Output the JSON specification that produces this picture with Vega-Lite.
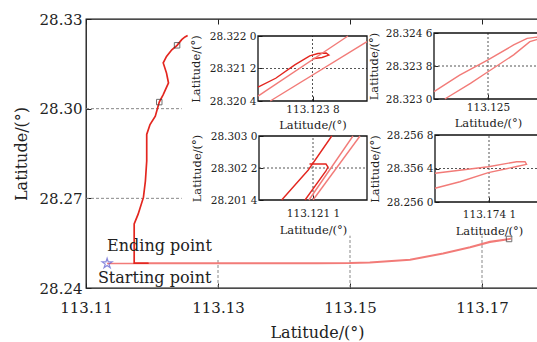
{
  "$schema": "https://vega.github.io/schema/vega-lite/v6.json",
  "width": 462,
  "height": 269,
  "autosize": "none",
  "padding": {"left": 86, "top": 19, "right": -11, "bottom": 54},
  "background": "white",
  "config": {
    "view": {"stroke": "#111", "strokeWidth": 1.3},
    "axis": {
      "labelFont": "DejaVu Serif",
      "titleFont": "DejaVu Serif",
      "titleFontWeight": "normal",
      "labelColor": "#222",
      "titleColor": "#222",
      "tickColor": "#222",
      "domainColor": "#111",
      "grid": false,
      "labelFlush": false,
      "labelOverlap": false
    }
  },
  "datasets": {
    "path": [
      {"i": 0, "x": 113.1132, "y": 28.2482, "s": "light"},
      {"i": 1, "x": 113.13, "y": 28.2482, "s": "light"},
      {"i": 2, "x": 113.145, "y": 28.2482, "s": "light"},
      {"i": 3, "x": 113.15, "y": 28.2483, "s": "light"},
      {"i": 4, "x": 113.153, "y": 28.2485, "s": "light"},
      {"i": 5, "x": 113.1591, "y": 28.2494, "s": "light"},
      {"i": 6, "x": 113.1641, "y": 28.2515, "s": "light"},
      {"i": 7, "x": 113.1682, "y": 28.2536, "s": "light"},
      {"i": 8, "x": 113.1712, "y": 28.2553, "s": "light"},
      {"i": 9, "x": 113.1737, "y": 28.2562, "s": "light"},
      {"i": 10, "x": 113.1744, "y": 28.2565, "s": "light"},
      {"i": 11, "x": 113.1737, "y": 28.2563, "s": "light"},
      {"i": 12, "x": 113.1712, "y": 28.2555, "s": "light"},
      {"i": 13, "x": 113.1682, "y": 28.2537, "s": "light"},
      {"i": 14, "x": 113.1641, "y": 28.2516, "s": "light"},
      {"i": 15, "x": 113.1591, "y": 28.2495, "s": "light"},
      {"i": 16, "x": 113.153, "y": 28.2486, "s": "light"},
      {"i": 17, "x": 113.15, "y": 28.2484, "s": "light"},
      {"i": 18, "x": 113.14, "y": 28.2483, "s": "light"},
      {"i": 19, "x": 113.13, "y": 28.2483, "s": "light"},
      {"i": 20, "x": 113.1195, "y": 28.2483, "s": "light"},
      {"i": 21, "x": 113.1195, "y": 28.2483, "s": "dark"},
      {"i": 22, "x": 113.1173, "y": 28.2483, "s": "dark"},
      {"i": 23, "x": 113.1173, "y": 28.2495, "s": "dark"},
      {"i": 24, "x": 113.1173, "y": 28.2614, "s": "dark"},
      {"i": 25, "x": 113.1179, "y": 28.2647, "s": "dark"},
      {"i": 26, "x": 113.1187, "y": 28.2703, "s": "dark"},
      {"i": 27, "x": 113.119, "y": 28.2758, "s": "dark"},
      {"i": 28, "x": 113.1192, "y": 28.2825, "s": "dark"},
      {"i": 29, "x": 113.1192, "y": 28.2914, "s": "dark"},
      {"i": 30, "x": 113.1197, "y": 28.2947, "s": "dark"},
      {"i": 31, "x": 113.1205, "y": 28.2975, "s": "dark"},
      {"i": 32, "x": 113.1211, "y": 28.3022, "s": "dark"},
      {"i": 33, "x": 113.1217, "y": 28.3047, "s": "dark"},
      {"i": 34, "x": 113.1225, "y": 28.3086, "s": "dark"},
      {"i": 35, "x": 113.1222, "y": 28.3119, "s": "dark"},
      {"i": 36, "x": 113.1217, "y": 28.3153, "s": "dark"},
      {"i": 37, "x": 113.1222, "y": 28.3175, "s": "dark"},
      {"i": 38, "x": 113.123, "y": 28.3197, "s": "dark"},
      {"i": 39, "x": 113.1238, "y": 28.3212, "s": "dark"},
      {"i": 40, "x": 113.1245, "y": 28.3231, "s": "dark"},
      {"i": 41, "x": 113.125, "y": 28.324, "s": "dark"},
      {"i": 42, "x": 113.1254, "y": 28.3245, "s": "dark"}
    ],
    "marks": [
      {"x": 113.1238, "y": 28.3212},
      {"x": 113.1211, "y": 28.3022},
      {"x": 113.1741, "y": 28.2564}
    ],
    "start": [{"x": 113.1132, "y": 28.2482}],
    "notes": [
      {"x": 113.1132, "y": 28.2542, "label": "Ending point"},
      {"x": 113.1118, "y": 28.2432, "label": "Starting point"}
    ],
    "hgrid": [
      {"y": 28.27, "x": 113.11, "x2": 113.1245},
      {"y": 28.3, "x": 113.11, "x2": 113.1245}
    ],
    "vgrid": [
      {"x": 113.13, "y": 28.24, "y2": 28.2498},
      {"x": 113.15, "y": 28.24, "y2": 28.2575},
      {"x": 113.17, "y": 28.24, "y2": 28.2575}
    ],
    "insets": [
      {"id": 1, "x0": 113.1234, "x1": 113.1242, "y0": 28.3204, "y1": 28.322, "xc": 113.1238, "yc": 28.3212},
      {"id": 2, "x0": 113.1246, "x1": 113.1254, "y0": 28.323, "y1": 28.3246, "xc": 113.125, "yc": 28.3238},
      {"id": 3, "x0": 113.1207, "x1": 113.1215, "y0": 28.3014, "y1": 28.303, "xc": 113.1211, "yc": 28.3022},
      {"id": 4, "x0": 113.1737, "x1": 113.1745, "y0": 28.256, "y1": 28.2568, "xc": 113.1741, "yc": 28.2564}
    ],
    "tracks": [
      {"id": 1, "g": "1a", "s": "dark", "i": 0, "x": 113.1234, "y": 28.32074},
      {"id": 1, "g": "1a", "s": "dark", "i": 1, "x": 113.12353, "y": 28.32096},
      {"id": 1, "g": "1a", "s": "dark", "i": 2, "x": 113.12367, "y": 28.32129},
      {"id": 1, "g": "1a", "s": "dark", "i": 3, "x": 113.12378, "y": 28.32151},
      {"id": 1, "g": "1a", "s": "dark", "i": 4, "x": 113.12384, "y": 28.32157},
      {"id": 1, "g": "1a", "s": "dark", "i": 5, "x": 113.1239, "y": 28.32158},
      {"id": 1, "g": "1a", "s": "dark", "i": 6, "x": 113.12392, "y": 28.32153},
      {"id": 1, "g": "1a", "s": "dark", "i": 7, "x": 113.12387, "y": 28.32147},
      {"id": 1, "g": "1a", "s": "dark", "i": 8, "x": 113.1238, "y": 28.32144},
      {"id": 1, "g": "1b", "s": "light", "i": 0, "x": 113.1234, "y": 28.32052},
      {"id": 1, "g": "1b", "s": "light", "i": 1, "x": 113.12406, "y": 28.322},
      {"id": 1, "g": "1c", "s": "light", "i": 0, "x": 113.12349, "y": 28.3204},
      {"id": 1, "g": "1c", "s": "light", "i": 1, "x": 113.1242, "y": 28.32186},
      {"id": 2, "g": "2a", "s": "light", "i": 0, "x": 113.1246, "y": 28.32318},
      {"id": 2, "g": "2a", "s": "light", "i": 1, "x": 113.12479, "y": 28.32358},
      {"id": 2, "g": "2a", "s": "light", "i": 2, "x": 113.125, "y": 28.32395},
      {"id": 2, "g": "2a", "s": "light", "i": 3, "x": 113.12519, "y": 28.32431},
      {"id": 2, "g": "2a", "s": "light", "i": 4, "x": 113.12529, "y": 28.32447},
      {"id": 2, "g": "2a", "s": "light", "i": 5, "x": 113.12536, "y": 28.3245},
      {"id": 2, "g": "2a", "s": "light", "i": 6, "x": 113.12538, "y": 28.32447},
      {"id": 2, "g": "2a", "s": "light", "i": 7, "x": 113.12536, "y": 28.32444},
      {"id": 2, "g": "2a", "s": "light", "i": 8, "x": 113.12531, "y": 28.32439},
      {"id": 2, "g": "2a", "s": "light", "i": 9, "x": 113.12519, "y": 28.32407},
      {"id": 2, "g": "2a", "s": "light", "i": 10, "x": 113.125, "y": 28.32366},
      {"id": 2, "g": "2a", "s": "light", "i": 11, "x": 113.12487, "y": 28.32338},
      {"id": 2, "g": "2a", "s": "light", "i": 12, "x": 113.12468, "y": 28.323},
      {"id": 3, "g": "3a", "s": "dark", "i": 0, "x": 113.120868, "y": 28.3014},
      {"id": 3, "g": "3a", "s": "dark", "i": 1, "x": 113.121065, "y": 28.30215},
      {"id": 3, "g": "3a", "s": "dark", "i": 2, "x": 113.121239, "y": 28.303},
      {"id": 3, "g": "3h", "s": "dark", "i": 0, "x": 113.121074, "y": 28.3023},
      {"id": 3, "g": "3h", "s": "dark", "i": 1, "x": 113.121196, "y": 28.3023},
      {"id": 3, "g": "3h", "s": "dark", "i": 2, "x": 113.121211, "y": 28.302225},
      {"id": 3, "g": "3h", "s": "dark", "i": 3, "x": 113.121196, "y": 28.302125},
      {"id": 3, "g": "3h", "s": "dark", "i": 4, "x": 113.121041, "y": 28.3014},
      {"id": 3, "g": "3b", "s": "light", "i": 0, "x": 113.12107, "y": 28.3014},
      {"id": 3, "g": "3b", "s": "light", "i": 1, "x": 113.121396, "y": 28.303},
      {"id": 3, "g": "3c", "s": "light", "i": 0, "x": 113.1211, "y": 28.3014},
      {"id": 3, "g": "3c", "s": "light", "i": 1, "x": 113.121448, "y": 28.303},
      {"id": 4, "g": "4a", "s": "light", "i": 0, "x": 113.1737, "y": 28.256343},
      {"id": 4, "g": "4a", "s": "light", "i": 1, "x": 113.174095, "y": 28.256421},
      {"id": 4, "g": "4a", "s": "light", "i": 2, "x": 113.174305, "y": 28.256481},
      {"id": 4, "g": "4a", "s": "light", "i": 3, "x": 113.174367, "y": 28.256481},
      {"id": 4, "g": "4a", "s": "light", "i": 4, "x": 113.174378, "y": 28.25645},
      {"id": 4, "g": "4a", "s": "light", "i": 5, "x": 113.174305, "y": 28.256424},
      {"id": 4, "g": "4a", "s": "light", "i": 6, "x": 113.174095, "y": 28.25635},
      {"id": 4, "g": "4a", "s": "light", "i": 7, "x": 113.173885, "y": 28.256242},
      {"id": 4, "g": "4a", "s": "light", "i": 8, "x": 113.1737, "y": 28.256164}
    ]
  },
  "layer": [
    {
      "data": {"name": "hgrid"},
      "mark": {"type": "rule", "strokeDash": [3, 2], "color": "#888", "strokeWidth": 1},
      "encoding": {
        "y": {"field": "y", "type": "quantitative", "scale": {"domain": [28.24, 28.33], "nice": false, "zero": false}, "axis": null},
        "x": {"field": "x", "type": "quantitative", "scale": {"domain": [113.11, 113.18], "nice": false, "zero": false}, "axis": null},
        "x2": {"field": "x2"}
      }
    },
    {
      "data": {"name": "vgrid"},
      "mark": {"type": "rule", "strokeDash": [3, 2], "color": "#888", "strokeWidth": 1},
      "encoding": {
        "x": {"field": "x", "type": "quantitative", "scale": {"domain": [113.11, 113.18], "nice": false, "zero": false},
          "axis": {"orient": "top", "values": [113.11, 113.13, 113.15, 113.17], "labels": false, "tickSize": -5, "domain": false, "title": null}},
        "y": {"field": "y", "type": "quantitative", "scale": {"domain": [28.24, 28.33], "nice": false, "zero": false}, "axis": null},
        "y2": {"field": "y2"}
      }
    },
    {
      "data": {"name": "path"},
      "mark": {"type": "line", "strokeWidth": 1.7},
      "encoding": {
        "x": {"field": "x", "type": "quantitative", "scale": {"domain": [113.11, 113.18], "nice": false, "zero": false},
          "axis": {"orient": "bottom", "values": [113.11, 113.13, 113.15, 113.17], "format": ".2f", "labelFontSize": 15, "tickSize": -5, "labelPadding": 17, "domain": false, "title": "Latitude/(°)", "titleFontSize": 16, "titlePadding": 9}},
        "y": {"field": "y", "type": "quantitative", "scale": {"domain": [28.24, 28.33], "nice": false, "zero": false},
          "axis": {"orient": "left", "values": [28.24, 28.27, 28.3, 28.33], "format": ".2f", "labelFontSize": 15, "tickSize": -5, "labelPadding": 9, "domain": false, "title": "Latitude/(°)", "titleFontSize": 16, "titlePadding": 10}},
        "color": {"field": "s", "type": "nominal", "scale": {"domain": ["dark", "light"], "range": ["#e3261f", "#f27b78"]}, "legend": null},
        "order": {"field": "i", "type": "quantitative"}
      }
    },
    {
      "data": {"name": "marks"},
      "mark": {"type": "point", "shape": "square", "size": 30, "filled": false, "color": "#333", "strokeWidth": 1},
      "encoding": {
        "x": {"field": "x", "type": "quantitative", "scale": {"domain": [113.11, 113.18], "nice": false, "zero": false}, "axis": null},
        "y": {"field": "y", "type": "quantitative", "scale": {"domain": [28.24, 28.33], "nice": false, "zero": false}, "axis": null}
      }
    },
    {
      "data": {"name": "start"},
      "mark": {"type": "point", "shape": "M0,-1L0.2245,-0.309L0.951,-0.309L0.3633,0.118L0.5878,0.809L0,0.382L-0.5878,0.809L-0.3633,0.118L-0.951,-0.309L-0.2245,-0.309Z", "size": 110, "filled": false, "color": "#5a5ad0", "strokeWidth": 1.2},
      "encoding": {
        "x": {"field": "x", "type": "quantitative", "scale": {"domain": [113.11, 113.18], "nice": false, "zero": false}, "axis": null},
        "y": {"field": "y", "type": "quantitative", "scale": {"domain": [28.24, 28.33], "nice": false, "zero": false}, "axis": null}
      }
    },
    {
      "data": {"name": "notes"},
      "mark": {"type": "text", "font": "DejaVu Serif", "fontSize": 16, "align": "left", "baseline": "middle", "color": "#222"},
      "encoding": {
        "x": {"field": "x", "type": "quantitative", "scale": {"domain": [113.11, 113.18], "nice": false, "zero": false}, "axis": null},
        "y": {"field": "y", "type": "quantitative", "scale": {"domain": [28.24, 28.33], "nice": false, "zero": false}, "axis": null},
        "text": {"field": "label", "type": "nominal"}
      }
    },
    {
      "data": {"name": "insets"},
      "transform": [{"filter": "datum.id == 1"}],
      "mark": {"type": "rule", "strokeDash": [2, 2], "color": "#555", "strokeWidth": 1},
      "encoding": {
        "x": {"field": "xc", "type": "quantitative", "scale": {"domain": [113.1234, 113.1242], "range": [172, 281], "nice": false, "zero": false}, "axis": null},
        "y": {"field": "y0", "type": "quantitative", "scale": {"domain": [28.3204, 28.322], "range": [82, 17], "nice": false, "zero": false}, "axis": null},
        "y2": {"field": "y1"}
      }
    },
    {
      "data": {"name": "insets"},
      "transform": [{"filter": "datum.id == 1"}],
      "mark": {"type": "rule", "strokeDash": [2, 2], "color": "#555", "strokeWidth": 1},
      "encoding": {
        "y": {"field": "yc", "type": "quantitative", "scale": {"domain": [28.3204, 28.322], "range": [82, 17], "nice": false, "zero": false}, "axis": null},
        "x": {"field": "x0", "type": "quantitative", "scale": {"domain": [113.1234, 113.1242], "range": [172, 281], "nice": false, "zero": false}, "axis": null},
        "x2": {"field": "x1"}
      }
    },
    {
      "data": {"name": "insets"},
      "transform": [{"filter": "datum.id == 1"}],
      "mark": {"type": "rect", "filled": false, "color": "#111", "strokeWidth": 1.3},
      "encoding": {
        "x": {"field": "x0", "type": "quantitative", "scale": {"domain": [113.1234, 113.1242], "range": [172, 281], "nice": false, "zero": false}, "axis": null},
        "x2": {"field": "x1"},
        "y": {"field": "y0", "type": "quantitative", "scale": {"domain": [28.3204, 28.322], "range": [82, 17], "nice": false, "zero": false}, "axis": null},
        "y2": {"field": "y1"}
      }
    },
    {
      "data": {"name": "tracks"},
      "transform": [{"filter": "datum.id == 1"}],
      "mark": {"type": "line", "strokeWidth": 1.4},
      "encoding": {
        "x": {"field": "x", "type": "quantitative", "scale": {"domain": [113.1234, 113.1242], "range": [172, 281], "nice": false, "zero": false},
          "axis": {"orient": "bottom", "offset": -187, "values": [113.1238], "labelExpr": "'113.123 8'", "labelFontSize": 10.5, "tickSize": -5, "labelPadding": 8, "domain": false, "title": "Latitude/(°)", "titleFontSize": 11.5, "titlePadding": 5}},
        "y": {"field": "y", "type": "quantitative", "scale": {"domain": [28.3204, 28.322], "range": [82, 17], "nice": false, "zero": false},
          "axis": {"orient": "left", "offset": -172, "values": [28.3204, 28.3212, 28.322], "labelExpr": "datum.value < 28.3208 ? '28.320 4' : datum.value < 28.3216 ? '28.321 2' : '28.322 0'", "labelFontSize": 10.5, "tickSize": -4, "labelPadding": 6, "domain": false, "title": "Latitude/(°)", "titleFontSize": 11.5, "titlePadding": 8}},
        "detail": {"field": "g", "type": "nominal"},
        "color": {"field": "s", "type": "nominal", "legend": null},
        "order": {"field": "i", "type": "quantitative"}
      }
    },
    {
      "data": {"name": "insets"},
      "transform": [{"filter": "datum.id == 2"}],
      "mark": {"type": "rule", "strokeDash": [2, 2], "color": "#555", "strokeWidth": 1},
      "encoding": {
        "x": {"field": "xc", "type": "quantitative", "scale": {"domain": [113.1246, 113.1254], "range": [348, 456], "nice": false, "zero": false}, "axis": null},
        "y": {"field": "y0", "type": "quantitative", "scale": {"domain": [28.323, 28.3246], "range": [80, 14], "nice": false, "zero": false}, "axis": null},
        "y2": {"field": "y1"}
      }
    },
    {
      "data": {"name": "insets"},
      "transform": [{"filter": "datum.id == 2"}],
      "mark": {"type": "rule", "strokeDash": [2, 2], "color": "#555", "strokeWidth": 1},
      "encoding": {
        "y": {"field": "yc", "type": "quantitative", "scale": {"domain": [28.323, 28.3246], "range": [80, 14], "nice": false, "zero": false}, "axis": null},
        "x": {"field": "x0", "type": "quantitative", "scale": {"domain": [113.1246, 113.1254], "range": [348, 456], "nice": false, "zero": false}, "axis": null},
        "x2": {"field": "x1"}
      }
    },
    {
      "data": {"name": "insets"},
      "transform": [{"filter": "datum.id == 2"}],
      "mark": {"type": "rect", "filled": false, "color": "#111", "strokeWidth": 1.3},
      "encoding": {
        "x": {"field": "x0", "type": "quantitative", "scale": {"domain": [113.1246, 113.1254], "range": [348, 456], "nice": false, "zero": false}, "axis": null},
        "x2": {"field": "x1"},
        "y": {"field": "y0", "type": "quantitative", "scale": {"domain": [28.323, 28.3246], "range": [80, 14], "nice": false, "zero": false}, "axis": null},
        "y2": {"field": "y1"}
      }
    },
    {
      "data": {"name": "tracks"},
      "transform": [{"filter": "datum.id == 2"}],
      "mark": {"type": "line", "strokeWidth": 1.4},
      "encoding": {
        "x": {"field": "x", "type": "quantitative", "scale": {"domain": [113.1246, 113.1254], "range": [348, 456], "nice": false, "zero": false},
          "axis": {"orient": "bottom", "offset": -189, "values": [113.125], "labelExpr": "'113.125'", "labelFontSize": 10.5, "tickSize": -5, "labelPadding": 8, "domain": false, "title": "Latitude/(°)", "titleFontSize": 11.5, "titlePadding": 5}},
        "y": {"field": "y", "type": "quantitative", "scale": {"domain": [28.323, 28.3246], "range": [80, 14], "nice": false, "zero": false},
          "axis": {"orient": "left", "offset": -348, "values": [28.323, 28.3238, 28.3246], "labelExpr": "datum.value < 28.3234 ? '28.323 0' : datum.value < 28.3242 ? '28.323 8' : '28.324 6'", "labelFontSize": 10.5, "tickSize": -4, "labelPadding": 6, "domain": false, "title": "Latitude/(°)", "titleFontSize": 11.5, "titlePadding": 6}},
        "detail": {"field": "g", "type": "nominal"},
        "color": {"field": "s", "type": "nominal", "legend": null},
        "order": {"field": "i", "type": "quantitative"}
      }
    },
    {
      "data": {"name": "insets"},
      "transform": [{"filter": "datum.id == 3"}],
      "mark": {"type": "rule", "strokeDash": [2, 2], "color": "#555", "strokeWidth": 1},
      "encoding": {
        "x": {"field": "xc", "type": "quantitative", "scale": {"domain": [113.1207, 113.1215], "range": [173, 281], "nice": false, "zero": false}, "axis": null},
        "y": {"field": "y0", "type": "quantitative", "scale": {"domain": [28.3014, 28.303], "range": [181, 117], "nice": false, "zero": false}, "axis": null},
        "y2": {"field": "y1"}
      }
    },
    {
      "data": {"name": "insets"},
      "transform": [{"filter": "datum.id == 3"}],
      "mark": {"type": "rule", "strokeDash": [2, 2], "color": "#555", "strokeWidth": 1},
      "encoding": {
        "y": {"field": "yc", "type": "quantitative", "scale": {"domain": [28.3014, 28.303], "range": [181, 117], "nice": false, "zero": false}, "axis": null},
        "x": {"field": "x0", "type": "quantitative", "scale": {"domain": [113.1207, 113.1215], "range": [173, 281], "nice": false, "zero": false}, "axis": null},
        "x2": {"field": "x1"}
      }
    },
    {
      "data": {"name": "insets"},
      "transform": [{"filter": "datum.id == 3"}],
      "mark": {"type": "rect", "filled": false, "color": "#111", "strokeWidth": 1.3},
      "encoding": {
        "x": {"field": "x0", "type": "quantitative", "scale": {"domain": [113.1207, 113.1215], "range": [173, 281], "nice": false, "zero": false}, "axis": null},
        "x2": {"field": "x1"},
        "y": {"field": "y0", "type": "quantitative", "scale": {"domain": [28.3014, 28.303], "range": [181, 117], "nice": false, "zero": false}, "axis": null},
        "y2": {"field": "y1"}
      }
    },
    {
      "data": {"name": "tracks"},
      "transform": [{"filter": "datum.id == 3"}],
      "mark": {"type": "line", "strokeWidth": 1.4},
      "encoding": {
        "x": {"field": "x", "type": "quantitative", "scale": {"domain": [113.1207, 113.1215], "range": [173, 281], "nice": false, "zero": false},
          "axis": {"orient": "bottom", "offset": -88, "values": [113.1211], "labelExpr": "'113.121 1'", "labelFontSize": 10.5, "tickSize": -5, "labelPadding": 13, "domain": false, "title": "Latitude/(°)", "titleFontSize": 11.5, "titlePadding": 6}},
        "y": {"field": "y", "type": "quantitative", "scale": {"domain": [28.3014, 28.303], "range": [181, 117], "nice": false, "zero": false},
          "axis": {"orient": "left", "offset": -173, "values": [28.3014, 28.3022, 28.303], "labelExpr": "datum.value < 28.3018 ? '28.201 4' : datum.value < 28.3026 ? '28.302 2' : '28.303 0'", "labelFontSize": 10.5, "tickSize": -4, "labelPadding": 6, "domain": false, "title": "Latitude/(°)", "titleFontSize": 11.5, "titlePadding": 8}},
        "detail": {"field": "g", "type": "nominal"},
        "color": {"field": "s", "type": "nominal", "legend": null},
        "order": {"field": "i", "type": "quantitative"}
      }
    },
    {
      "data": {"name": "insets"},
      "transform": [{"filter": "datum.id == 4"}],
      "mark": {"type": "rule", "strokeDash": [2, 2], "color": "#555", "strokeWidth": 1},
      "encoding": {
        "x": {"field": "xc", "type": "quantitative", "scale": {"domain": [113.1737, 113.1745], "range": [349, 457], "nice": false, "zero": false}, "axis": null},
        "y": {"field": "y0", "type": "quantitative", "scale": {"domain": [28.256, 28.2568], "range": [183, 116], "nice": false, "zero": false}, "axis": null},
        "y2": {"field": "y1"}
      }
    },
    {
      "data": {"name": "insets"},
      "transform": [{"filter": "datum.id == 4"}],
      "mark": {"type": "rule", "strokeDash": [2, 2], "color": "#555", "strokeWidth": 1},
      "encoding": {
        "y": {"field": "yc", "type": "quantitative", "scale": {"domain": [28.256, 28.2568], "range": [183, 116], "nice": false, "zero": false}, "axis": null},
        "x": {"field": "x0", "type": "quantitative", "scale": {"domain": [113.1737, 113.1745], "range": [349, 457], "nice": false, "zero": false}, "axis": null},
        "x2": {"field": "x1"}
      }
    },
    {
      "data": {"name": "insets"},
      "transform": [{"filter": "datum.id == 4"}],
      "mark": {"type": "rect", "filled": false, "color": "#111", "strokeWidth": 1.3},
      "encoding": {
        "x": {"field": "x0", "type": "quantitative", "scale": {"domain": [113.1737, 113.1745], "range": [349, 457], "nice": false, "zero": false}, "axis": null},
        "x2": {"field": "x1"},
        "y": {"field": "y0", "type": "quantitative", "scale": {"domain": [28.256, 28.2568], "range": [183, 116], "nice": false, "zero": false}, "axis": null},
        "y2": {"field": "y1"}
      }
    },
    {
      "data": {"name": "tracks"},
      "transform": [{"filter": "datum.id == 4"}],
      "mark": {"type": "line", "strokeWidth": 1.4},
      "encoding": {
        "x": {"field": "x", "type": "quantitative", "scale": {"domain": [113.1737, 113.1745], "range": [349, 457], "nice": false, "zero": false},
          "axis": {"orient": "bottom", "offset": -86, "values": [113.1741], "labelExpr": "'113.174 1'", "labelFontSize": 10.5, "tickSize": -5, "labelPadding": 12, "domain": false, "title": "Latitude/(°)", "titleFontSize": 11.5, "titlePadding": 6}},
        "y": {"field": "y", "type": "quantitative", "scale": {"domain": [28.256, 28.2568], "range": [183, 116], "nice": false, "zero": false},
          "axis": {"orient": "left", "offset": -349, "values": [28.256, 28.2564, 28.2568], "labelExpr": "datum.value < 28.2562 ? '28.256 0' : datum.value < 28.2566 ? '28.356 4' : '28.256 8'", "labelFontSize": 10.5, "tickSize": -4, "labelPadding": 6, "domain": false, "title": "Latitude/(°)", "titleFontSize": 11.5, "titlePadding": 6}},
        "detail": {"field": "g", "type": "nominal"},
        "color": {"field": "s", "type": "nominal", "legend": null},
        "order": {"field": "i", "type": "quantitative"}
      }
    }
  ],
  "resolve": {"scale": {"x": "independent", "y": "independent"}}
}
